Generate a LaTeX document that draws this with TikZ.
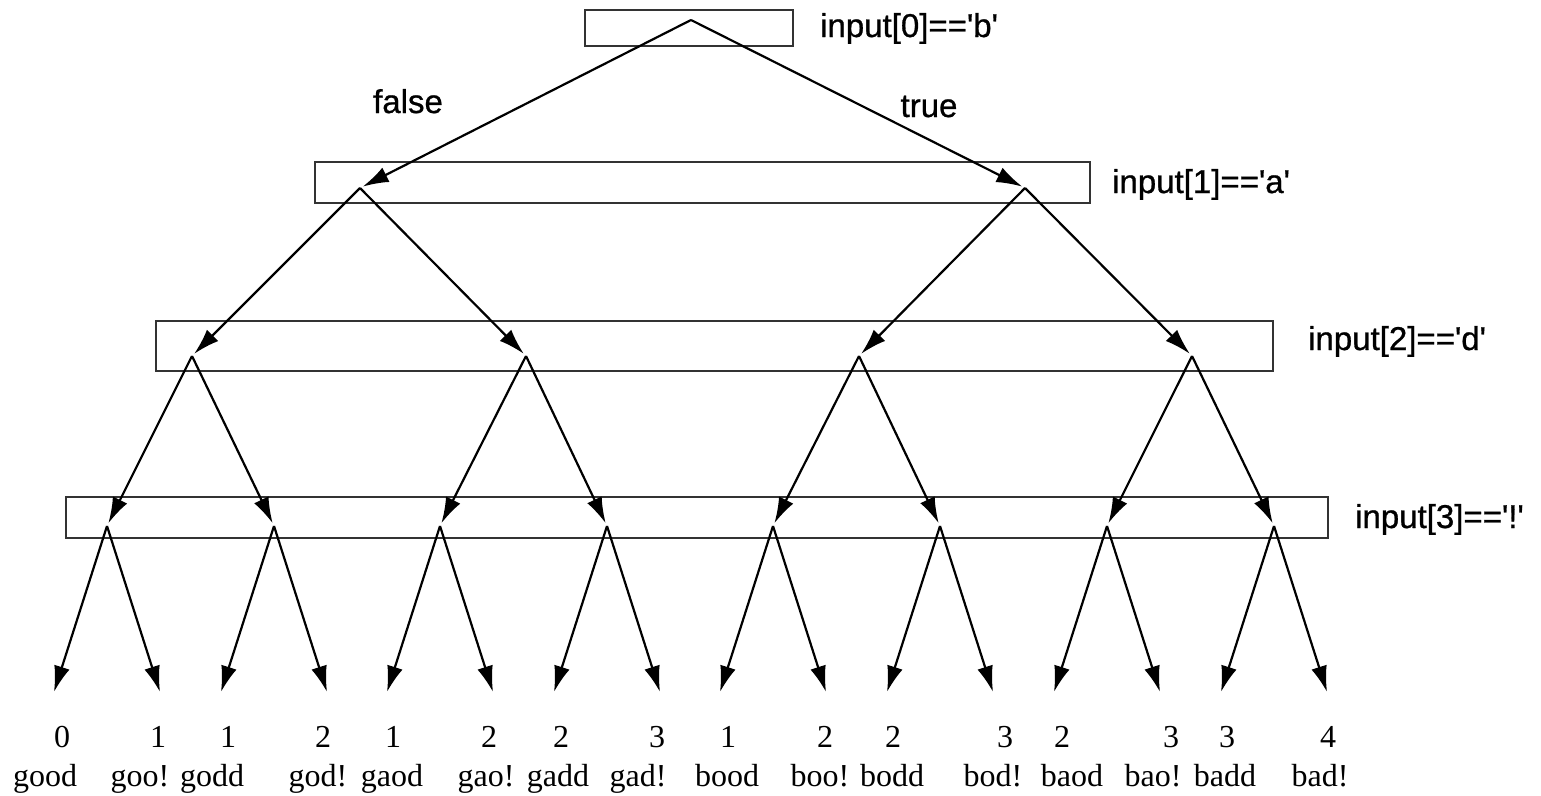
\documentclass[tikz,border=0pt]{standalone}
\usepackage{fontspec}
\setmainfont{Liberation Serif}
\newfontfamily\lsans[FakeBold=0.8]{Liberation Sans}
\usetikzlibrary{arrows.meta}
\begin{document}
\begin{tikzpicture}[x=1pt,y=-1pt,
  box/.style={draw=black!80,line width=2.6pt,inner sep=0pt},
  edge/.style={draw=black,line width=2.2pt,-{Latex[length=26pt,width=16pt]},shorten >=3pt},
  cond/.style={font=\lsans\fontsize{33}{36}\selectfont,anchor=base west,inner sep=0pt},
  branchlab/.style={font=\lsans\fontsize{33}{36}\selectfont,anchor=base,inner sep=0pt},
  num/.style={font=\fontsize{32}{34}\selectfont,anchor=base,inner sep=0pt},
  word/.style={font=\fontsize{32}{34}\selectfont,anchor=base,inner sep=0pt}]
\useasboundingbox (0,0) rectangle (1541,795);
% boxes
\node[box,minimum width=208pt,minimum height=36pt] (b0) at (689,28) {};
\node[box,minimum width=775pt,minimum height=41pt] (b1) at (702.5,182.5) {};
\node[box,minimum width=1117pt,minimum height=50pt] (b2) at (714.5,346) {};
\node[box,minimum width=1262pt,minimum height=41pt] (b3) at (697,517.5) {};
% condition labels
\node[cond] (c0) at (820,37) {input[0]=='b'};
\node[cond] (c1) at (1112,193) {input[1]=='a'};
\node[cond] (c2) at (1308,350) {input[2]=='d'};
\node[cond] (c3) at (1355,528) {input[3]=='!'};
\node[branchlab] (lf) at (408,113) {false};
\node[branchlab] (lt) at (929,117) {true};
% branch points
\coordinate (r) at (691,20);
\coordinate (p0) at (360,188);
\coordinate (p1) at (1025,188);
\coordinate (q0) at (192,356);
\coordinate (q1) at (526,356);
\coordinate (q2) at (859,356);
\coordinate (q3) at (1192,356);
\foreach \i/\x in {0/107,1/274,2/440,3/607,4/773,5/940,6/1107,7/1274}{
  \coordinate (s\i) at (\x,526);
}
\draw[edge] (r) -- (p0);
\draw[edge] (r) -- (p1);
\draw[edge] (p0) -- (q0);
\draw[edge] (p0) -- (q1);
\draw[edge] (p1) -- (q2);
\draw[edge] (p1) -- (q3);
\draw[edge] (q0) -- (s0);
\draw[edge] (q0) -- (s1);
\draw[edge] (q1) -- (s2);
\draw[edge] (q1) -- (s3);
\draw[edge] (q2) -- (s4);
\draw[edge] (q2) -- (s5);
\draw[edge] (q3) -- (s6);
\draw[edge] (q3) -- (s7);
% leaves
\foreach \i/\x in {0/107,1/274,2/440,3/607,4/773,5/940,6/1107,7/1274}{
  \pgfmathtruncatemacro{\a}{2*\i}
  \pgfmathtruncatemacro{\b}{2*\i+1}
  \coordinate (l\a) at (\x-53,692);
  \coordinate (l\b) at (\x+53,692);
  \draw[edge,shorten >=0pt] (s\i) -- (l\a);
  \draw[edge,shorten >=0pt] (s\i) -- (l\b);
}
% leaf labels
\foreach \x/\n/\w/\wx [count=\k] in {
  62/0/good/45, 158/1/goo!/140, 228/1/godd/212, 323/2/god!/318,
  393/1/gaod/392, 489/2/gao!/486, 561/2/gadd/558, 657/3/gad!/638,
  728/1/bood/727, 825/2/boo!/820, 893/2/bodd/892, 1005/3/bod!/993,
  1062/2/baod/1072, 1171/3/bao!/1153, 1227/3/badd/1225, 1328/4/bad!/1320}{
  \node[num] (n\k) at (\x,747) {\n};
  \node[word] (w\k) at (\wx,786) {\w};
}
\end{tikzpicture}
\end{document}
